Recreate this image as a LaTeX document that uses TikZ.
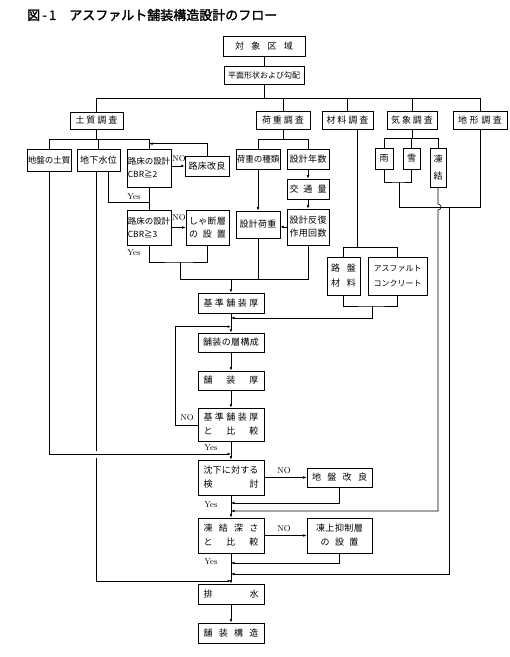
\documentclass[tikz,border=0pt]{standalone}
\usepackage{fontspec}
\newfontfamily\jp{Noto Sans CJK JP}
\newfontfamily\jpb{Noto Sans CJK JP}[FakeBold=2]
\usetikzlibrary{arrows.meta,calc}

% characters spread evenly over a fixed width
\newcommand\sprd[2]{\makebox[#1pt]{#2}}
% box given by its corners (x1,y1) (x2,y2)
\newcommand\bx[7][]{%
  \pgfmathsetmacro\bxcx{(#3+#5)/2}%
  \pgfmathsetmacro\bxcy{(#4+#6)/2}%
  \pgfmathsetmacro\bxw{#5-#3}%
  \pgfmathsetmacro\bxh{#6-#4}%
  \node[box,minimum width=\bxw pt,minimum height=\bxh pt,#1] (#2) at (\bxcx,\bxcy) {#7};}

\tikzset{
  box/.style={draw, line width=0.75pt, inner sep=0pt, align=center,
              font=\jp\fontsize{9}{12}\selectfont},
  wire/.style={line width=0.6pt},
  arr/.style={wire, -{Latex[length=3.5pt,width=2.6pt]}},
  lbl/.style={font=\fontsize{8.5}{9}\selectfont, inner sep=0pt},
}

\begin{document}
\begin{tikzpicture}[x=1pt,y=-1pt]
\fill[white] (0,0) rectangle (510,657);
\useasboundingbox (0,0) rectangle (510,657);

\node[anchor=west, inner sep=0pt, font=\jpb\fontsize{13}{14}\selectfont] (title) at (27,15)
  {図\,-\,1\hspace{13pt}アスファルト舗装構造設計のフロー};

% ---- boxes ----
\bx{target}{223}{36}{305}{56}{\sprd{58}{対\hfill 象\hfill 区\hfill 域}}
\bx{plan}{224}{66}{304}{84}{{\fontsize{8}{9}\selectfont 平面形状および勾配}}

\bx{soil}{70}{112}{123}{129}{\sprd{42}{土\hfill 質\hfill 調\hfill 査}}
\bx{load}{256}{111}{310}{129}{\sprd{42}{荷\hfill 重\hfill 調\hfill 査}}
\bx{mat}{322}{111}{373}{129}{\sprd{42}{材\hfill 料\hfill 調\hfill 査}}
\bx{weather}{387}{111}{437}{129}{\sprd{42}{気\hfill 象\hfill 調\hfill 査}}
\bx{terrain}{453}{111}{507}{129}{\sprd{44}{地\hfill 形\hfill 調\hfill 査}}

\bx{ground}{27}{149}{71}{171}{{\fontsize{8.5}{10}\selectfont 地盤の土質}}
\bx{water}{77}{149}{120}{171}{\sprd{37}{地\hfill 下\hfill 水\hfill 位}}
\bx[align=left,font=\jp\fontsize{8.5}{13}\selectfont]{cbr2}{127}{149}{171}{187}{路床の設計\\CBR≧2}
\bx{subimp}{185}{156}{229}{176}{\sprd{37}{路\hfill 床\hfill 改\hfill 良}}
\bx[align=left,font=\jp\fontsize{8.5}{13}\selectfont]{cbr3}{127}{210}{171}{245}{路床の設計\\CBR≧3}
\bx[font=\jp\fontsize{9}{13}\selectfont]{cutoff}{186}{210}{229}{245}{\sprd{37}{し\hfill ゃ\hfill 断\hfill 層}\\\sprd{37}{の\hfill 設\hfill 置}}

\bx{loadtype}{236}{149}{280}{169}{{\fontsize{8.5}{10}\selectfont 荷重の種類}}
\bx{years}{287}{149}{329}{169}{\sprd{37}{設\hfill 計\hfill 年\hfill 数}}
\bx{traffic}{287}{179}{329}{199}{\sprd{37}{交\hfill 通\hfill 量}}
\bx{dload}{236}{211}{280}{238}{\sprd{37}{設\hfill 計\hfill 荷\hfill 重}}
\bx[font=\jp\fontsize{9}{13}\selectfont]{reps}{287}{209}{329}{245}{\sprd{37}{設\hfill 計\hfill 反\hfill 復}\\\sprd{37}{作\hfill 用\hfill 回\hfill 数}}

\bx{rain}{375}{148}{393}{169}{雨}
\bx{snow}{403}{148}{420}{169}{雪}
\bx[font=\jp\fontsize{9}{17}\selectfont]{frost}{430}{148}{446}{187}{凍\\結}

\bx[font=\jp\fontsize{9}{15}\selectfont]{base}{327}{257}{360}{295}{\sprd{25}{路\hfill 盤}\\\sprd{25}{材\hfill 料}}
\bx[font=\jp\fontsize{8}{15}\selectfont]{ascon}{368}{257}{427}{295}{アスファルト\\コンクリート}

\bx{std}{198}{293}{264}{313}{\sprd{55}{基\hfill 準\hfill 舗\hfill 装\hfill 厚}}
\bx{layer}{198}{333}{264}{352}{\sprd{56}{舗\hfill 装\hfill の\hfill 層\hfill 構\hfill 成}}
\bx{thick}{198}{371}{264}{390}{\sprd{55}{舗\hfill 装\hfill 厚}}
\bx[font=\jp\fontsize{9}{14}\selectfont]{cmp}{198}{408}{264}{441}{\sprd{55}{基\hfill 準\hfill 舗\hfill 装\hfill 厚}\\\sprd{55}{と\hfill 比\hfill 較}}
\bx[font=\jp\fontsize{9}{14}\selectfont]{settle}{198}{460}{264}{495}{\sprd{55}{沈\hfill 下\hfill に\hfill 対\hfill す\hfill る}\\\sprd{55}{検\hfill 討}}
\bx{gimp}{307}{468}{372}{487}{\sprd{55}{地\hfill 盤\hfill 改\hfill 良}}
\bx[font=\jp\fontsize{9}{14}\selectfont]{fcmp}{198}{518}{264}{553}{\sprd{55}{凍\hfill 結\hfill 深\hfill さ}\\\sprd{55}{と\hfill 比\hfill 較}}
\bx[font=\jp\fontsize{9}{14}\selectfont]{fprot}{307}{518}{372}{553}{\sprd{47}{凍\hfill 上\hfill 抑\hfill 制\hfill 層}\\\sprd{38}{の\hfill 設\hfill 置}}
\bx{drain}{198}{584}{264}{604}{\sprd{55}{排\hfill 水}}
\bx{pave}{198}{623}{264}{643}{\sprd{55}{舗\hfill 装\hfill 構\hfill 造}}

% ---- top of the tree ----
\coordinate (tbus) at (264,98);
\draw[wire] (target) -- (plan);
\draw[wire] (plan.south) -- (tbus);
\draw[wire] (soil.north) |- (terrain.north |- tbus) -- (terrain.north);
\foreach \n in {load,mat,weather} \draw[wire] (\n.north) -- (\n.north |- tbus);

% ---- soil survey ----
\coordinate (sbus) at (0,139);
\draw[wire] (soil.south) -- (soil.south |- sbus);
\draw[wire] (ground.north) |- (cbr2.north |- sbus) -- (cbr2.north);
\draw[wire] (water.north) -- (water.north |- sbus);
\draw[arr] (cbr2.east |- subimp.west) -- (subimp.west);
\draw[arr] (subimp.north) |- ($(cbr2.north)+(0,-5)$);
\node[lbl] (no1) at (179,159) {NO};
\coordinate (wyes) at (108.5,202);
\draw[wire] (water.south -| wyes) -- (wyes) -- (wyes -| cbr2.south);
\node[lbl] (yes1) at (134,197) {Yes};
\draw[wire] (cbr2.south) -- (cbr3.north);
\draw[arr] (cbr3) -- (cutoff);
\node[lbl] (no2) at (179,218) {NO};
\node[lbl] (yes2) at (134,253) {Yes};
\coordinate (j262) at (180,262);
\draw[wire] (cbr3.south) |- (j262) -| (cutoff.south);

% ---- load survey ----
\coordinate (lbus) at (0,139);
\draw[wire] (load.south) -- (load.south |- lbus);
\draw[wire] (loadtype.north) |- (years.north |- lbus) -- (years.north);
\draw[arr] (years) -- (traffic);
\draw[arr] (traffic) -- (reps);
\draw[arr] (loadtype) -- (dload);
\draw[arr] (reps.west) -- (reps.west -| dload.east);

% ---- into the standard thickness ----
\coordinate (b279) at (180,279);
\draw[wire] (j262) -- (b279) -- (b279 -| reps.south) -- (reps.south);
\draw[wire] (dload.south) -- (dload.south |- b279);
\draw[arr] (b279 -| std.north) -- (std.north);

% ---- materials ----
\coordinate (mbus) at (357,247);
\draw[wire] (mat.south -| mbus) -- (mbus);
\draw[wire] (base.north) |- (ascon.north |- mbus) -- (ascon.north);
\coordinate (mb) at (372,306);
\draw[wire] (base.south) |- (mb) -| (ascon.south);
\coordinate (mc) at (372,318);
\draw[arr] (mb) -- (mc) -- (mc -| std.south);

% ---- weather and terrain ----
\coordinate (wbus) at (0,138);
\draw[wire] (weather.south) -- (weather.south |- wbus);
\draw[wire] (rain.north) |- (frost.north |- wbus) -- (frost.north);
\draw[wire] (snow.north) -- (snow.north |- wbus);
\coordinate (rs) at (399,182);
\draw[wire] (rain.south) |- (rs) -| (snow.south);
\coordinate (r207) at (399,207);
\draw[wire] (rs) -- (r207) -| (terrain.south);

% ---- main column ----
\draw[arr] (std) -- (layer);
\coordinate (noL) at (175,425);
\draw[arr] (cmp.west |- noL) -- (noL) |- ($(layer.north)+(0,-6)$);
\node[lbl] (no3) at (187,418) {NO};
\draw[arr] (layer) -- (thick);
\draw[arr] (thick) -- (cmp);
\draw[arr] (cmp) -- (settle);
\node[lbl] (yes3) at (211,448) {Yes};
\coordinate (g454) at (49,454);
\draw[arr] (ground.south) -- (g454) -- (g454 -| settle.north);
\draw[arr] (settle) -- (gimp);
\node[lbl] (no4) at (284,471) {NO};
\coordinate (g503) at (339.5,503);
\draw[arr] (gimp.south) -- (g503) -- (g503 -| fcmp.north);
\coordinate (f511) at (438,511);
\draw[arr] (frost.south) -- (438,204) arc[start angle=-90, end angle=90, radius=3] -- (f511) -- (f511 -| fcmp.north);
\draw[arr] (settle) -- (fcmp);
\node[lbl] (yes4) at (211,505) {Yes};
\draw[arr] (fcmp) -- (fprot);
\node[lbl] (no5) at (284,529) {NO};
\coordinate (p563) at (339.5,563);
\draw[arr] (fprot.south) -- (p563) -- (p563 -| drain.north);
\coordinate (d574) at (449,574);
\draw[arr] (r207 -| d574) -- (d574) -- (d574 -| drain.north);
% ground-water line, broken where the settlement feed crosses it
\coordinate (w581) at (96,581);
\draw[wire] (water.south -| w581) -- (96,450.5);
\draw[arr] (96,457.5) -- (w581) -- (w581 -| drain.north);
\draw[arr] (fcmp) -- (drain);
\node[lbl] (yes5) at (211,562) {Yes};
\draw[arr] (drain) -- (pave);
\end{tikzpicture}
\end{document}
